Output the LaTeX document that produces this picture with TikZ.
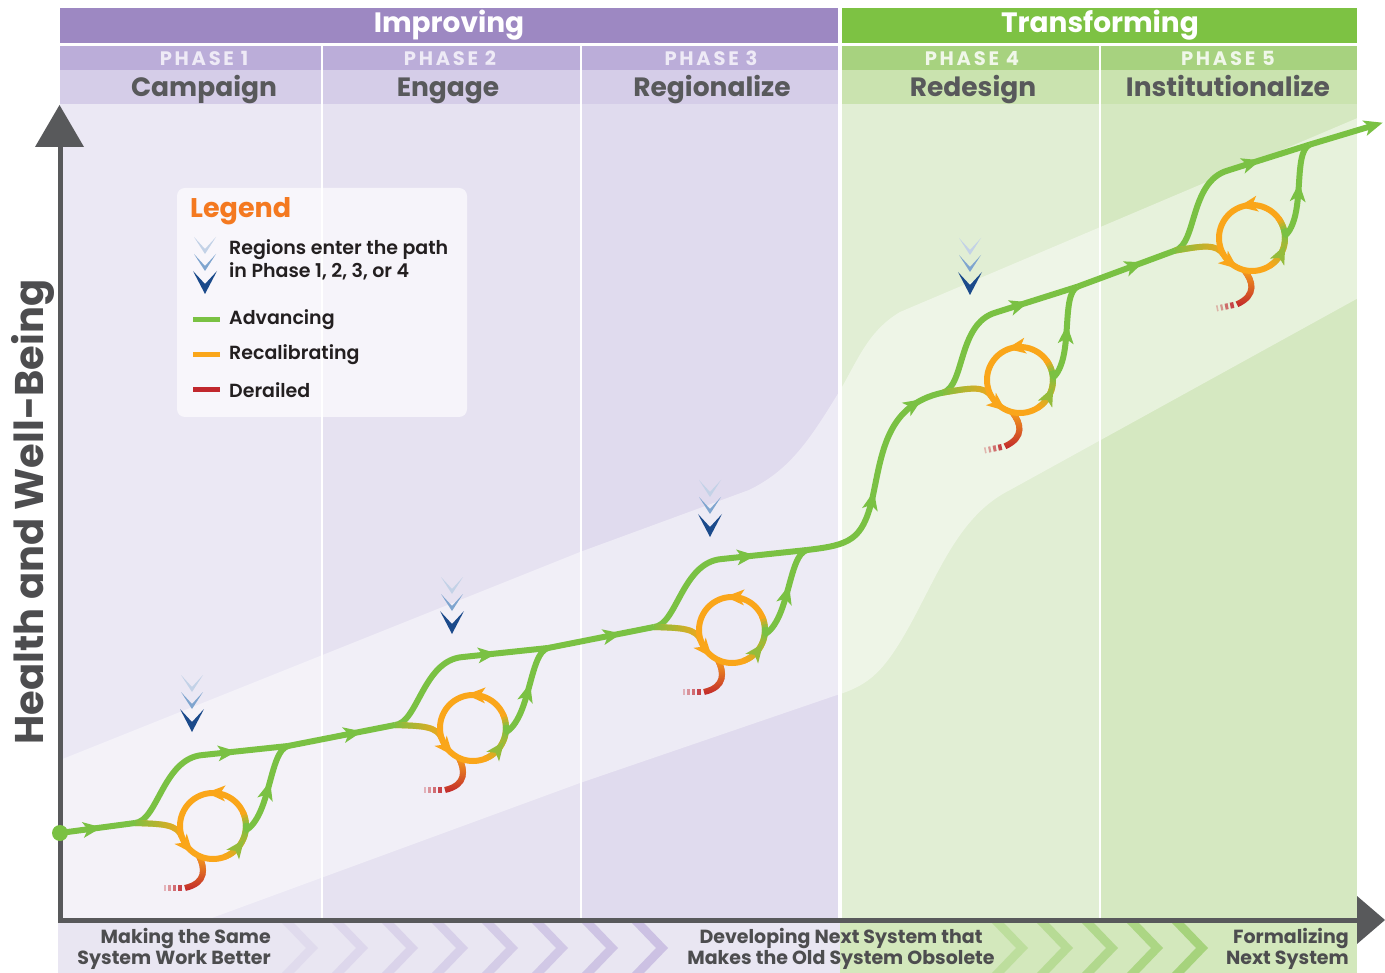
\documentclass[tikz,border=0pt]{standalone}
\usepackage{fontspec}
\setmainfont{Poppins}
\newfontfamily\psemi{Poppins SemiBold}
\newfontfamily\pspaced{Poppins Bold}[LetterSpace=14]
\usetikzlibrary{arrows.meta,decorations.markings,fadings}

% palette
\definecolor{grn}{HTML}{7AC143}
\definecolor{orng}{HTML}{FAA61A}
\definecolor{rd}{HTML}{C1272D}
\definecolor{axisgray}{HTML}{58595B}
\definecolor{txtgray}{HTML}{58595B}
\definecolor{striptx}{HTML}{4D4D4F}
\definecolor{legblk}{HTML}{231F20}
\definecolor{legor}{HTML}{F47920}
\definecolor{impA}{HTML}{9D88C2}
\definecolor{impB}{HTML}{BBADD9}
\definecolor{impC}{HTML}{D5CDE8}
\definecolor{trA}{HTML}{7DC243}
\definecolor{trB}{HTML}{A7D27F}
\definecolor{trC}{HTML}{CAE3AF}
\definecolor{phP}{HTML}{EEEAF6}
\definecolor{phG}{HTML}{F0F7E9}
\definecolor{colA}{HTML}{EBE8F4}
\definecolor{colB}{HTML}{E6E2F1}
\definecolor{colC}{HTML}{E0DBEE}
\definecolor{colD}{HTML}{E1EED4}
\definecolor{colE}{HTML}{D5E8C1}
\definecolor{chvA}{HTML}{C3D2E7}
\definecolor{chvB}{HTML}{7FA5CF}
\definecolor{chvC}{HTML}{1B4A8B}
\definecolor{stripP}{HTML}{E9E6F2}
\definecolor{stripG}{HTML}{D3E8BC}
\definecolor{chevP}{HTML}{C8BCE1}
\definecolor{chevG}{HTML}{A3D278}

\tikzfading[name=faderight, left color=transparent!0, right color=transparent!100]
\tikzfading[name=fadedown, top color=transparent!0, bottom color=transparent!100]

\tikzset{
  adv/.style={draw=grn, line width=6pt},
  recal/.style={draw=orng, line width=6pt},
  derail/.style={draw=rd, line width=6pt},
  arrowmk/.style 2 args={postaction={decorate, decoration={markings,
      mark=at position #1 with {\fill[#2] (8,0) -- (-11,-8) -- (-6,0) -- (-11,8) -- cycle;}}}},
  hdrtxt/.style={text=white, anchor=base, font=\bfseries\fontsize{28}{30}\selectfont},
  phasetxt/.style={anchor=base, font=\pspaced\fontsize{19.5}{20}\selectfont},
  nametxt/.style={text=txtgray, anchor=base, font=\bfseries\fontsize{26.5}{30}\selectfont},
  legtxt/.style={text=legblk, font=\psemi\fontsize{19}{23}\selectfont, anchor=west, align=left, inner sep=0pt},
  striptxt/.style={text=striptx, font=\bfseries\fontsize{19}{21}\selectfont, inner sep=0pt},
}

% three stacked chevrons marking where regions join the path
\newcommand\entrymark[1]{%
  \begin{scope}[shift={#1}]
    \fill[chvA] (-11,0) -- (0,12) -- (11,0) -- (0,17) -- cycle;
    \fill[chvB] (-11,17) -- (0,29) -- (11,17) -- (0,34) -- cycle;
    \fill[chvC] (-12,34) -- (0,47) -- (12,34) -- (0,57) -- cycle;
  \end{scope}}

% one phase: advancing branch, recalibrating loop and derailed tail
\newcommand\phaseloop[3]{%
  \begin{scope}[shift={#1}, rotate=#2]
    \coordinate (#3C) at (0,0);
    \coordinate (#3B) at (-78,-3);
    \coordinate (#3M) at (75,-80);
    \coordinate (#3E) at (-31,11);
    \coordinate (#3X) at (32,5);
    % advancing branch over the top
    \draw[adv, arrowmk={0.68}{grn}] (#3B) .. controls (-55,-5) and (-50,-68) .. (-10,-71) -- (#3M);
    % derailed tail
    \draw[derail] (-14,30) .. controls (-8,42) and (-6,57) .. (-28,62);
    \draw[recal, path fading=fadedown] (-14,30) .. controls (-8,42) and (-6,57) .. (-28,62);
    \foreach \dx/\wd/\op in {-33/3.5/0.85, -38.5/3/0.65, -43.5/2.2/0.45, -48/1.6/0.3}
      {\fill[rd, opacity=\op] (\dx-\wd/2,59) rectangle (\dx+\wd/2,65);}
    % turn-off into the loop
    \draw[recal] (#3B) .. controls (-50,-2) and (-36,-2) .. (#3E);
    \draw[adv, path fading=faderight] (#3B) .. controls (-50,-2) and (-36,-2) .. (#3E);
    % recalibrating loop
    \draw[recal] (#3C) circle[radius=33];
    \foreach \k in {0,...,13}{%
      \pgfmathsetmacro\ang{70-5*\k}%
      \pgfmathsetmacro\pct{100-100*\k/13}%
      \draw[line width=6pt, draw=orng!\pct!grn] (\ang:33) arc[start angle=\ang, end angle=\ang-5.6, radius=33];}
    \foreach \k in {0,...,4}{%
      \pgfmathsetmacro\ang{0-5*\k}%
      \pgfmathsetmacro\pct{100*\k/4}%
      \draw[line width=6pt, draw=orng!\pct!grn] (\ang:33) arc[start angle=\ang, end angle=\ang-5.6, radius=33];}
    % back onto the path
    \draw[adv, arrowmk={0.5}{grn}] (#3X) .. controls (58,-10) and (56,-75) .. (#3M);
    % direction marks on the loop
    \path[arrowmk={0.097}{orng}, arrowmk={0.383}{grn!80!orng}, arrowmk={0.73}{orng}]
      (175:33) arc[start angle=175, end angle=-185, radius=33];
  \end{scope}}

\begin{document}
\begin{tikzpicture}[x=1pt, y=-1pt]
\useasboundingbox (0,0) rectangle (1385,973);

% header bars
\fill[impA] (60,8) rectangle (838,43);
\fill[trA] (842,8) rectangle (1357,43);
\fill[impB] (60,46) rectangle (840,70);
\fill[trB] (840,46) rectangle (1357,70);
\fill[impC] (60,70) rectangle (840,104);
\fill[trC] (840,70) rectangle (1357,104);

% phase columns
\fill[colA] (60,104) rectangle (322,918);
\fill[colB] (322,104) rectangle (581,918);
\fill[colC] (581,104) rectangle (840,918);
\fill[colD] (840,104) rectangle (1100,918);
\fill[colE] (1100,104) rectangle (1357,918);

% light corridor behind the path
\begin{scope}
  \clip (60,104) rectangle (1357,918);
  \fill[white, opacity=0.45]
    (40,768) -- (580,552) -- (749,490)
    .. controls (790,470) and (810,440) .. (842,387)
    .. controls (860,355) and (870,330) .. (900,312)
    -- (1400,100) -- (1400,275) -- (1010,490)
    .. controls (960,515) and (940,570) .. (910,625)
    .. controls (885,670) and (870,685) .. (837,695)
    -- (580,783) -- (40,981) -- cycle;
\end{scope}

% column dividers
\foreach \xd in {322,581,1100}{\draw[white, line width=2.5pt] (\xd,46) -- (\xd,918);}
\draw[white, line width=3.5pt] (840,8) -- (840,918);

% header texts
\node[hdrtxt] (improving) at (449,33) {Improving};
\node[hdrtxt] (transforming) at (1100,33) {Transforming};
\node[phasetxt, text=phP] (ph1) at (204,66) {PHASE 1};
\node[phasetxt, text=phP] (ph2) at (450,66) {PHASE 2};
\node[phasetxt, text=phP] (ph3) at (711,66) {PHASE 3};
\node[phasetxt, text=phG] (ph4) at (972,66) {PHASE 4};
\node[phasetxt, text=phG] (ph5) at (1228,66) {PHASE 5};
\node[nametxt] (nm1) at (204,97) {Campaign};
\node[nametxt] (nm2) at (448,97) {Engage};
\node[nametxt] (nm3) at (712,97) {Regionalize};
\node[nametxt] (nm4) at (973,97) {Redesign};
\node[nametxt] (nm5) at (1228,97) {Institutionalize};

% bottom strip
\fill[stripP] (58,923) rectangle (840,973);
\fill[stripG] (840,923) rectangle (1357,973);
\foreach \i in {0,...,7}{%
  \pgfmathsetmacro\xo{282+50*\i}%
  \pgfmathsetmacro\op{0.25+0.09*\i}%
  \fill[chevP, opacity=\op] (\xo,923) -- (\xo+12,923) -- (\xo+36,948) -- (\xo+12,973) -- (\xo,973) -- (\xo+24,948) -- cycle;}
\foreach \i in {0,...,4}{%
  \pgfmathsetmacro\xo{992+45*\i}%
  \pgfmathsetmacro\op{0.45+0.12*\i}%
  \fill[chevG, opacity=\op] (\xo,923) -- (\xo+12,923) -- (\xo+36,948) -- (\xo+12,973) -- (\xo,973) -- (\xo+24,948) -- cycle;}
\node[striptxt, anchor=east, align=right] (stripA) at (271,949) {Making the Same\\System Work Better};
\node[striptxt, align=center] (stripB) at (841,949) {Developing Next System that\\Makes the Old System Obsolete};
\node[striptxt, anchor=east, align=right] (stripC) at (1349,949) {Formalizing\\Next System};

% axes
\draw[axisgray, line width=5pt] (60,922) -- (60,145);
\fill[axisgray] (35,147) -- (59.5,105) -- (84,147) -- cycle;
\draw[axisgray, line width=5pt] (58,920) -- (1360,920);
\fill[axisgray] (1357,896) -- (1385,920) -- (1357,944) -- cycle;
\node[rotate=90, text=striptx, font=\bfseries\fontsize{40}{40}\selectfont] (ylabel) at (33,512) {Health and Well-Being};

% legend
\fill[white, opacity=0.65, rounded corners=8pt] (177,188) rectangle (467,417);
\node[anchor=west, inner sep=0pt, text=legor, font=\bfseries\fontsize{27}{28}\selectfont] (legtitle) at (190,211) {Legend};
\entrymark{(205,237)}
\node[legtxt] (legregions) at (229,260) {Regions enter the path\\in Phase 1, 2, 3, or 4};
\draw[grn, line width=5pt] (193,320) -- (220,320);
\node[legtxt] (legadv) at (229,320) {Advancing};
\draw[orng, line width=5pt] (193,355) -- (220,355);
\node[legtxt] (legrec) at (229,355) {Recalibrating};
\draw[rd, line width=5pt] (193,390) -- (220,390);
\node[legtxt] (legder) at (229,390) {Derailed};

% the path through the five phases
\coordinate (start) at (60,833);
\coordinate (finish) at (1375,125);
\phaseloop{(213,826)}{0}{La}
\phaseloop{(473,728)}{0}{Lb}
\phaseloop{(732,630)}{0}{Lc}
\phaseloop{(1020,380)}{11.5}{Ld}
\phaseloop{(1252,238)}{11.5}{Le}
\draw[adv, arrowmk={0.45}{grn}] (start) -- (LaB);
\draw[adv, arrowmk={0.62}{grn}] (LaM) -- (LbB);
\draw[adv, arrowmk={0.62}{grn}] (LbM) -- (LcB);
\draw[adv, arrowmk={0.4}{grn}, arrowmk={0.87}{grn}] (LcM)
  .. controls (850,545) and (862,540) .. (872,500)
  .. controls (882,455) and (885,405) .. (LdB);
\draw[adv, arrowmk={0.6}{grn}] (LdM) -- (LeB);
\draw[adv, arrowmk={1}{grn}] (LeM) -- (finish);
\fill[grn] (start) circle[radius=8];

% where regions join
\entrymark{(192,675)}
\entrymark{(452,577)}
\entrymark{(710,480)}
\entrymark{(970,238)}
\end{tikzpicture}
\end{document}
